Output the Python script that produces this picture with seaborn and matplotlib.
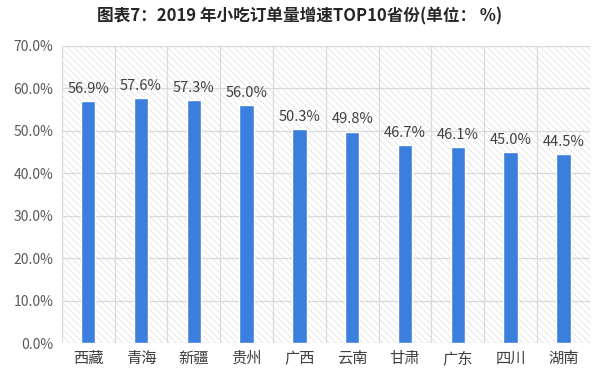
import numpy as np
import pandas as pd
import matplotlib.pyplot as plt
import seaborn as sns
from matplotlib.patches import Rectangle

provinces = ["西藏", "青海", "新疆", "贵州", "广西", "云南", "甘肃", "广东", "四川", "湖南"]
growth = [56.9, 57.6, 57.3, 56.0, 50.3, 49.8, 46.7, 46.1, 45.0, 44.5]
yticks = [0, 10, 20, 30, 40, 50, 60, 70]

sns.set_style("white")
plt.rcParams['font.family'] = ['Noto Sans CJK SC', 'DejaVu Sans']

df = pd.DataFrame({"province": provinces, "growth": growth})

fig = plt.figure(figsize=(6, 3.85), dpi=100)
ax = fig.add_axes([0.103, 0.109, 0.88, 0.772])

# hatched background of plot area
plt.rcParams['hatch.linewidth'] = 0.5
bg = Rectangle((0, 0), 1, 1, transform=ax.transAxes, facecolor="white",
               edgecolor="#DDDDDD", hatch="\\\\\\\\\\", lw=0, zorder=0)
ax.add_patch(bg)

sns.barplot(data=df, x="province", y="growth", color="#3C7EDD", width=0.27,
            saturation=1, ax=ax, zorder=3)

ax.set_ylim(0, 70)
ax.set_xlim(-0.5, len(provinces) - 0.5)
ax.set_yticks(yticks)
ax.set_yticklabels([f"{v:.1f}%" for v in yticks], fontsize=10, color="#595959")
ax.tick_params(axis="x", labelsize=11, colors="#404040", length=0, pad=5)
ax.tick_params(axis="y", length=0, pad=6)
ax.set_xlabel("")
ax.set_ylabel("")

for v in yticks:
    ax.axhline(v, color="#D9D9D9", lw=0.9, zorder=1)
for i in range(len(provinces) + 1):
    ax.axvline(i - 0.5, color="#D9D9D9", lw=0.9, zorder=1)

for i, v in enumerate(growth):
    ax.text(i, v + 1.2, f"{v:.1f}%", ha="center", va="bottom", fontsize=10.5,
            color="#404040", zorder=4)

for s in ax.spines.values():
    s.set_visible(False)

fig.suptitle("图表7：2019 年小吃订单量增速TOP10省份(单位： %)", fontsize=12,
             fontweight="bold", color="#262626", y=0.98)

fig.savefig("out.png", dpi=100)
